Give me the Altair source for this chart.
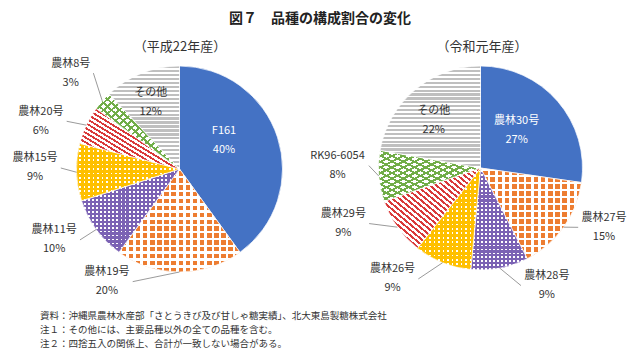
import math
import altair as alt
import pandas as pd

# ---------------- data ----------------
title_text = "図７　品種の構成割合の変化"
subtitles = ["（平成22年産）", "（令和元年産）"]
notes = [
    "資料：沖縄県農林水産部「さとうきび及び甘しゃ糖実績」、北大東島製糖株式会社",
    "注１：その他には、主要品種以外の全ての品種を含む。",
    "注２：四捨五入の関係上、合計が一致しない場合がある。",
]

pie1_names = ["F161", "農林19号", "農林11号", "農林15号", "農林20号", "農林8号", "その他"]
pie1_values = [40, 20, 10, 9, 6, 3, 12]

pie2_names = ["農林30号", "農林27号", "農林28号", "農林26号", "農林29号", "RK96-6054", "その他"]
pie2_values = [27, 15, 9, 9, 9, 8, 22]

# ---------------- styles ----------------
patterns = ["blue", "orange", "purple", "yellow", "red", "green", "grey"]
# label placement: angular shift from slice middle (deg) and radius (px)
pie1_shift = [-14.2, 32.8, 6.5, 2.2, -6.2, 0.0, -1.9]
pie1_lrad = [52.6, 134, 144, 144.5, 146.6, 145, 72]
pie2_shift = [-5.1, -9.8, -18.5, 16.6, 13.4, 5.5, -4.7]
pie2_lrad = [52, 137, 135, 141.6, 148, 143, 66.4]

FONT = "Noto Sans CJK JP"
TXT = "#333333"
W, H = 624, 342
PIES = [
    dict(names=pie1_names, values=pie1_values, shift=pie1_shift, lrad=pie1_lrad, cx=171.5, cy=161, r=103),
    dict(names=pie2_names, values=pie2_values, shift=pie2_shift, lrad=pie2_lrad, cx=472.5, cy=160, r=102),
]

BLUE = "#4472C4"
ORANGE = "#ED7D31"
PURPLE = "#7B62B4"
YELLOW = "#FFC000"
RED = "#D93A3A"
GREEN = "#70AD47"
GREY = "#BFBFBF"
WHITE = "#FFFFFF"
CLEAR = "rgba(255,255,255,0)"

DIRS = {
    "h": dict(x1=0, y1=0, x2=0, y2=1),
    "v": dict(x1=0, y1=0, x2=1, y2=0),
    "d1": dict(x1=0, y1=1, x2=1, y2=0),  # "\" lines
    "d2": dict(x1=0, y1=0, x2=1, y2=1),  # "/" lines
}


def slice_bbox(a0, a1, r):
    pts = [(0.0, 0.0)]
    angs = [a0, a1] + [k * math.pi / 2 for k in range(5) if a0 < k * math.pi / 2 < a1]
    for a in angs:
        pts.append((r * math.sin(a), -r * math.cos(a)))
    xs = [p[0] for p in pts]
    ys = [p[1] for p in pts]
    return max(max(xs) - min(xs), 1.0), max(max(ys) - min(ys), 1.0)


def stripes(c1, c2, frac1, period, d, w, h):
    if d == "h":
        L = h
    elif d == "v":
        L = w
    else:
        L = 2 * w * h / math.sqrt(w * w + h * h)
    n = max(1, int(round(L / period)))
    stops = []
    for k in range(n):
        o0 = k / n
        om = (k + frac1) / n
        o1 = (k + 1) / n
        stops += [
            {"offset": round(o0, 5), "color": c1},
            {"offset": round(om, 5), "color": c1},
            {"offset": round(om, 5), "color": c2},
            {"offset": round(o1, 5), "color": c2},
        ]
    g = {"gradient": "linear", "stops": stops}
    g.update(DIRS[d])
    return g


def pattern_fills(p, w, h):
    if p == "blue":
        return [BLUE]
    if p == "orange":
        return [ORANGE,
                stripes(WHITE, CLEAR, 0.36, 7.0, "v", w, h),
                stripes(WHITE, CLEAR, 0.36, 7.0, "h", w, h)]
    if p == "purple":
        return [WHITE,
                stripes(PURPLE, CLEAR, 0.55, 4.0, "v", w, h),
                stripes(PURPLE, CLEAR, 0.55, 4.0, "h", w, h)]
    if p == "yellow":
        return [WHITE,
                stripes(YELLOW, CLEAR, 0.6, 4.4, "v", w, h),
                stripes(YELLOW, CLEAR, 0.6, 4.4, "h", w, h)]
    if p == "red":
        return [stripes(RED, WHITE, 0.45, 4.2, "d1", w, h)]
    if p == "green":
        return [WHITE,
                stripes(GREEN, CLEAR, 0.36, 5.2, "d1", w, h),
                stripes(GREEN, CLEAR, 0.36, 5.2, "d2", w, h)]
    if p == "grey":
        return [stripes(GREY, WHITE, 0.55, 4.0, "h", w, h)]
    return [GREY]


def label_width(s):
    return sum(11 if ord(c) > 255 else 6.3 for c in s)


layers = []
for P in PIES:
    cx, cy, r = P["cx"], P["cy"], P["r"]
    df = pd.DataFrame({
        "name": P["names"],
        "value": P["values"],
        "order": list(range(len(P["names"]))),
        "pat": patterns,
        "shift": P["shift"],
        "lrad": P["lrad"],
        "gap": [label_width(n) / 2 + 3 for n in P["names"]],
    })
    base = (
        alt.Chart(df)
        .transform_joinaggregate(total="sum(value)")
        .transform_window(cum="sum(value)", sort=[alt.SortField("order")], frame=[None, 0])
        .transform_calculate(
            a0="2*PI*(datum.cum - datum.value)/datum.total",
            a1="2*PI*datum.cum/datum.total",
        )
        .transform_calculate(mid="(datum.a0 + datum.a1)/2")
        .transform_calculate(la="datum.mid + datum.shift*PI/180")
        .transform_calculate(
            lx=f"{cx} + datum.lrad*sin(datum.la)",
            ly=f"{cy} - datum.lrad*cos(datum.la)",
            ex=f"{cx} + {r}*sin(datum.mid)",
            ey=f"{cy} - {r}*cos(datum.mid)",
            pct="datum.value + '%'",
        )
    )

    # slices (style only: bbox for stripe density)
    total = sum(P["values"])
    cum = 0
    for i, (v, p) in enumerate(zip(P["values"], patterns)):
        a0 = 2 * math.pi * cum / total
        a1 = 2 * math.pi * (cum + v) / total
        cum += v
        w, h = slice_bbox(a0, a1, r)
        fills = pattern_fills(p, w, h)
        for j, f in enumerate(fills):
            kw = dict(radius=r, fill=f)
            if j == len(fills) - 1:
                kw.update(stroke="white", strokeWidth=0.7)
            else:
                kw.update(strokeWidth=0)
            layers.append(
                base.transform_filter(f"datum.order == {i}")
                .mark_arc(**kw)
                .encode(
                    theta=alt.Theta("a0:Q", scale=None, stack=None),
                    theta2="a1:Q",
                    x=alt.value(cx),
                    y=alt.value(cy),
                )
            )

    # leader lines
    layers.append(
        base.transform_filter(f"datum.lrad > {r}")
        .transform_calculate(
            tx=f"datum.lx + (datum.lx < {cx} ? 1 : -1)*datum.gap",
        )
        .mark_rule(color="#808080", strokeWidth=0.8)
        .encode(
            x=alt.X("ex:Q", scale=None, axis=None),
            y=alt.Y("ey:Q", scale=None, axis=None),
            x2="tx:Q",
            y2="ly:Q",
        )
    )

    # labels
    color_cond = alt.condition("datum.pat == 'blue'", alt.value("white"), alt.value(TXT))
    for field, dy in [("name", -9.5), ("pct", 9.5)]:
        layers.append(
            base.mark_text(font=FONT, fontSize=11, dy=dy, align="center", baseline="middle")
            .encode(
                x=alt.X("lx:Q", scale=None, axis=None),
                y=alt.Y("ly:Q", scale=None, axis=None),
                text=f"{field}:N",
                color=color_cond,
            )
        )

# annotations
ann = pd.DataFrame({"t": [title_text]})
layers.append(
    alt.Chart(ann).mark_text(font=FONT, fontSize=14, fontWeight="bold", color="#222222",
                             align="center", baseline="middle")
    .encode(text="t:N", x=alt.value(312), y=alt.value(10.5))
)
for s, x in zip(subtitles, [172, 474]):
    layers.append(
        alt.Chart(pd.DataFrame({"t": [s]})).mark_text(font=FONT, fontSize=13, color="#333333",
                                                     align="center", baseline="middle")
        .encode(text="t:N", x=alt.value(x), y=alt.value(38.7))
    )
for s, y in zip(notes, [307.5, 321.5, 335.5]):
    layers.append(
        alt.Chart(pd.DataFrame({"t": [s]})).mark_text(font=FONT, fontSize=9.5, color="#333333",
                                                     align="left", baseline="middle")
        .encode(text="t:N", x=alt.value(32), y=alt.value(y))
    )

chart = (
    alt.layer(*layers)
    .properties(width=W, height=H, padding=0, autosize=alt.AutoSizeParams(type="none"),
                background="white")
    .configure_view(strokeWidth=0)
)

chart.save("out.html", embed_options={"renderer": "svg", "actions": False})
